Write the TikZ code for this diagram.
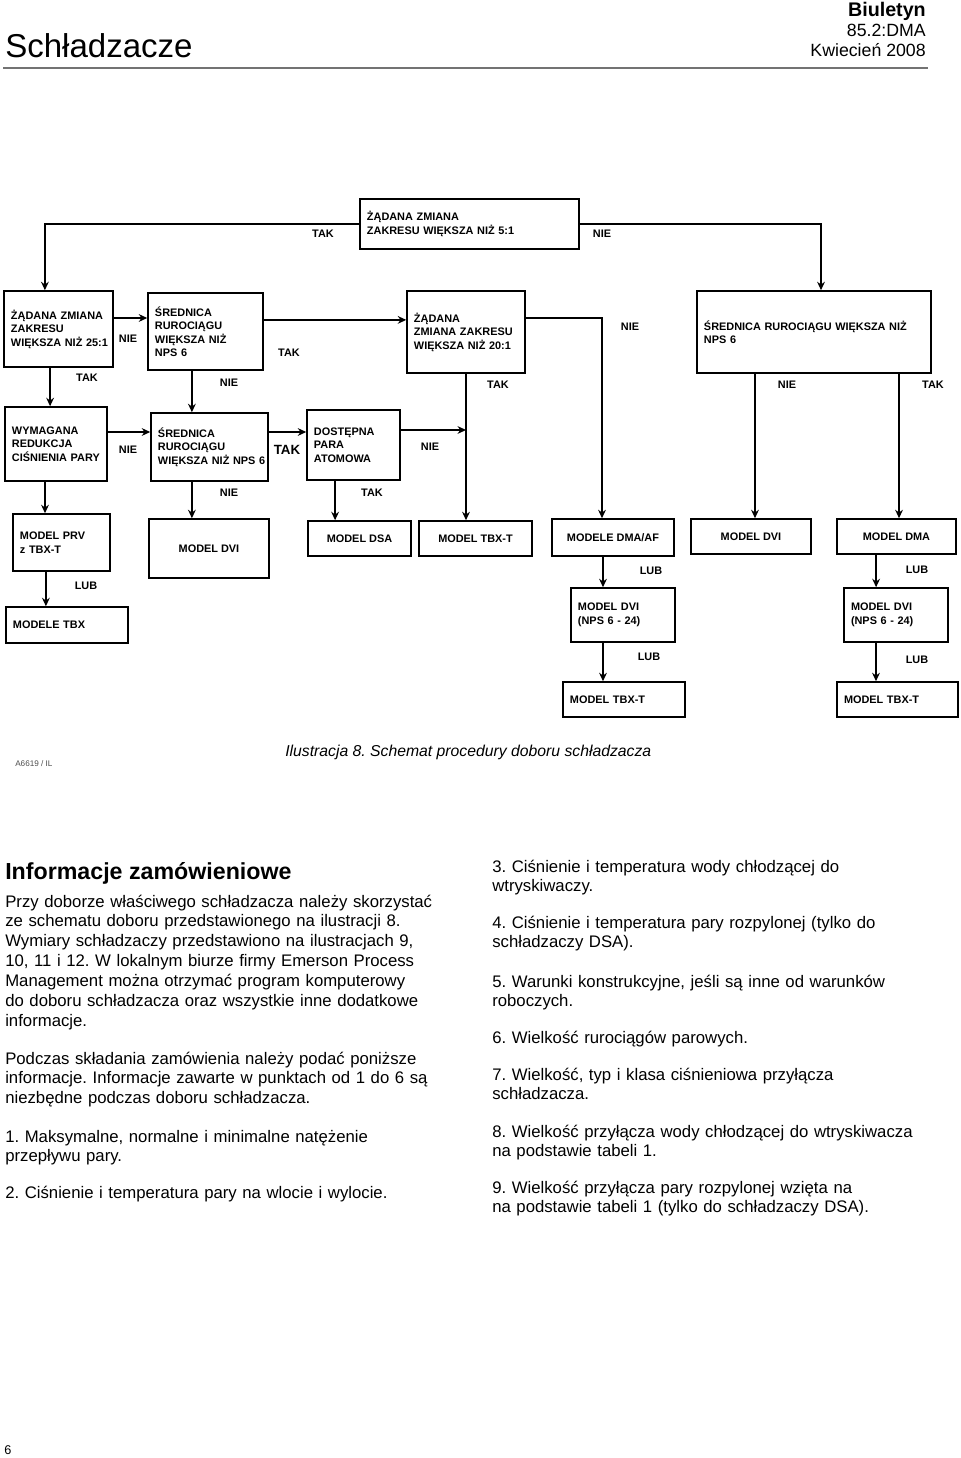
\documentclass[tikz,border=0pt]{standalone}
\usepackage{fontspec}
\setmainfont{Liberation Sans}
\usetikzlibrary{arrows.meta}
\frenchspacing

\newcommand{\boxfont}{\fontsize{7.75}{9.6}\selectfont\bfseries}
\newcommand{\bodyfont}{\fontsize{11.9}{14.2}\selectfont}

\begin{document}
\begin{tikzpicture}[x=0.025cm, y=-0.025cm,
  lbox/.style 2 args={draw, line width=1.1pt, font=\boxfont, inner sep=0pt,
    text width=#1*0.25mm, minimum height=#2*0.25mm,
    execute at begin node={\leftskip=1.75mm}},
  cbox/.style 2 args={draw, line width=1.1pt, font=\boxfont, inner sep=0pt, align=center,
    minimum width=#1*0.25mm, minimum height=#2*0.25mm},
  lbl/.style={font=\boxfont, inner sep=0pt},
  arr/.style={line width=1.1pt, -{Stealth[length=6pt,width=5.5pt]}},
  txt/.style={font=\bodyfont, inner sep=0pt, anchor=base west, text width=115mm, align=left}]
\useasboundingbox (0,0) rectangle (960,1458);

\node[anchor=base west, inner sep=0pt, font=\fontsize{23.5}{28}\selectfont] (title) at (5,58) {Schładzacze};
\node[anchor=base east, inner sep=0pt, font=\fontsize{14}{17}\selectfont\bfseries] (bul) at (926,17) {Biuletyn};
\node[anchor=base east, inner sep=0pt, font=\fontsize{12.6}{15}\selectfont] (nr) at (926,37) {85.2:DMA};
\node[anchor=base east, inner sep=0pt, font=\fontsize{12.6}{15}\selectfont] (date) at (926,57) {Kwiecień 2008};
\draw[line width=1.4pt, black!55] (3,68) -- (928,68);

\node[lbox={219}{50}] (top) at (469.5,224) {ŻĄDANA ZMIANA\\ZAKRESU WIĘKSZA NIŻ 5:1};

\node[lbox={109}{76}] (b1) at (58.5,329) {ŻĄDANA ZMIANA\\ZAKRESU\\WIĘKSZA NIŻ 25:1};
\node[lbox={115}{77}] (b2) at (205.5,331.5) {ŚREDNICA\\RUROCIĄGU\\WIĘKSZA NIŻ\\NPS 6};
\node[lbox={118}{82}] (b3) at (466,332) {ŻĄDANA\\ZMIANA ZAKRESU\\WIĘKSZA NIŻ 20:1};
\node[lbox={234}{82}] (b4) at (814,332) {ŚREDNICA RUROCIĄGU WIĘKSZA NIŻ\\NPS 6};

\node[lbox={102}{74}] (c1) at (56,444) {WYMAGANA\\REDUKCJA\\CIŚNIENIA PARY};
\node[lbox={117}{68}] (c2) at (209.5,447) {ŚREDNICA\\RUROCIĄGU\\WIĘKSZA NIŻ NPS 6};
\node[lbox={93}{70}] (c3) at (353.5,445) {DOSTĘPNA\\PARA\\ATOMOWA};

\node[lbox={97}{57}] (d1) at (61.5,542.5) {MODEL PRV\\z TBX-T};
\node[cbox={120}{59}] (d2) at (209,548.5) {MODEL DVI};
\node[cbox={103}{35}] (d3) at (359.5,538.5) {MODEL DSA};
\node[cbox={113}{35}] (d4) at (475.5,538.5) {MODEL TBX-T};
\node[cbox={122}{37}] (d5) at (613,537.5) {MODELE DMA/AF};
\node[cbox={120}{35}] (d6) at (751,536.5) {MODEL DVI};
\node[cbox={119}{35}] (d7) at (896.5,536.5) {MODEL DMA};

\node[lbox={122}{36}] (e1) at (67,625) {MODELE TBX};
\node[lbox={104}{54}] (e2) at (623,615) {MODEL DVI\\(NPS 6 - 24)};
\node[lbox={104}{54}] (e3) at (896,615) {MODEL DVI\\(NPS 6 - 24)};
\node[lbox={122}{35}] (f1) at (624,699.5) {MODEL TBX-T};
\node[lbox={121}{35}] (f2) at (897.5,699.5) {MODEL TBX-T};

\draw[arr] (top.west) -| ([xshift=-3.4mm]b1.north);
\draw[arr] (top.east) -| ([xshift=1.75mm]b4.north);
\draw[arr] ([yshift=2.75mm]b1.east) -- ([yshift=2.75mm]b1.east -| b2.west);
\draw[arr] ([yshift=2.9mm]b2.east) -- ([yshift=2.9mm]b2.east -| b3.west);
\draw[arr] ([yshift=3.5mm]b3.east) -| ([xshift=-2.75mm]d5.north);
\draw[arr] (b3.south) -- (b3.south |- d4.north);
\draw[arr] ([xshift=-14.75mm]b4.south) -- ([xshift=-14.75mm]b4.south |- d6.north);
\draw[arr] ([xshift=21.25mm]b4.south) -- ([xshift=21.25mm]b4.south |- d7.north);
\draw[arr] ([xshift=-2.1mm]b1.south) -- ([xshift=-2.1mm]b1.south |- c1.north);
\draw[arr] ([xshift=-3.4mm]b2.south) -- ([xshift=-3.4mm]b2.south |- c2.north);

\draw[arr] ([yshift=3mm]c1.east) -- ([yshift=3mm]c1.east -| c2.west);
\draw[arr] ([yshift=3.75mm]c2.east) -- ([yshift=3.75mm]c2.east -| c3.west);
\draw[arr] ([yshift=3.75mm]c3.east) -- ([yshift=3.75mm]c3.east -| b3.south);
\draw[arr] ([xshift=-2.75mm]c1.south) -- ([xshift=-2.75mm]c1.south |- d1.north);
\draw[arr] ([xshift=-4.4mm]c2.south) -- ([xshift=-4.4mm]c2.south |- d2.north);
\draw[arr] ([xshift=-4.6mm]c3.south) -- ([xshift=-4.6mm]c3.south |- d3.north);

\draw[arr] ([xshift=-3.9mm]d1.south) -- ([xshift=-3.9mm]d1.south |- e1.north);
\draw[arr] ([xshift=-2.5mm]d5.south) -- ([xshift=-2.5mm]d5.south |- e2.north);
\draw[arr] ([xshift=-5.1mm]d7.south) -- ([xshift=-5.1mm]d7.south |- e3.north);
\draw[arr] ([xshift=-5mm]e2.south) -- ([xshift=-5mm]e2.south |- f1.north);
\draw[arr] ([xshift=-5mm]e3.south) -- ([xshift=-5mm]e3.south |- f2.north);

\node[lbl] (l1) at (323,234) {TAK};
\node[lbl] (l2) at (602,234) {NIE};
\node[lbl] (l3) at (128,339) {NIE};
\node[lbl] (l4) at (289,353) {TAK};
\node[lbl] (l5) at (630,327) {NIE};
\node[lbl] (l6) at (87,378) {TAK};
\node[lbl] (l7) at (229,383) {NIE};
\node[lbl] (l8) at (498,385) {TAK};
\node[lbl] (l9) at (787,385) {NIE};
\node[lbl] (l10) at (933,385) {TAK};
\node[lbl] (l11) at (128,450) {NIE};
\node[lbl, font=\fontsize{9.5}{11}\selectfont\bfseries] (l12) at (287,450) {TAK};
\node[lbl] (l13) at (430,447) {NIE};
\node[lbl] (l14) at (229,493) {NIE};
\node[lbl] (l15) at (372,493) {TAK};
\node[lbl] (l16) at (86,586) {LUB};
\node[lbl] (l17) at (651,571) {LUB};
\node[lbl] (l18) at (917,570) {LUB};
\node[lbl] (l19) at (649,657) {LUB};
\node[lbl] (l20) at (917,660) {LUB};

\node[anchor=base west, inner sep=0pt, font=\fontsize{5.8}{7}\selectfont, black!70] (kod) at (15,766) {A6619 / IL};
\node[anchor=base west, inner sep=0pt, font=\fontsize{11.2}{13}\selectfont\itshape] (cap) at (285,756) {Ilustracja 8. Schemat procedury doboru schładzacza};

\node[anchor=base west, inner sep=0pt, font=\fontsize{16.5}{20}\selectfont\bfseries] (head) at (5,879) {Informacje zamówieniowe};
\node[txt] (p1) at (5,907) {Przy doborze właściwego schładzacza należy skorzystać\\ze schematu doboru przedstawionego na ilustracji 8.\\Wymiary schładzaczy przedstawiono na ilustracjach 9,\\10, 11 i 12. W lokalnym biurze firmy Emerson Process\\Management można otrzymać program komputerowy\\do doboru schładzacza oraz wszystkie inne dodatkowe\\informacje.};
\node[txt] (p2) at (5,1064) {Podczas składania zamówienia należy podać poniższe\\informacje. Informacje zawarte w punktach od 1 do 6 są\\niezbędne podczas doboru schładzacza.};
\node[txt] (i1) at (5,1142) {1. Maksymalne, normalne i minimalne natężenie\\przepływu pary.};
\node[txt] (i2) at (5,1198) {2. Ciśnienie i temperatura pary na wlocie i wylocie.};

\node[txt] (i3) at (492,872) {3. Ciśnienie i temperatura wody chłodzącej do\\wtryskiwaczy.};
\node[txt] (i4) at (492,928) {4. Ciśnienie i temperatura pary rozpylonej (tylko do\\schładzaczy DSA).};
\node[txt] (i5) at (492,987) {5. Warunki konstrukcyjne, jeśli są inne od warunków\\roboczych.};
\node[txt] (i6) at (492,1043) {6. Wielkość rurociągów parowych.};
\node[txt] (i7) at (492,1080) {7. Wielkość, typ i klasa ciśnieniowa przyłącza\\schładzacza.};
\node[txt] (i8) at (492,1137) {8. Wielkość przyłącza wody chłodzącej do wtryskiwacza\\na podstawie tabeli 1.};
\node[txt] (i9) at (492,1193) {9. Wielkość przyłącza pary rozpylonej wzięta na\\na podstawie tabeli 1 (tylko do schładzaczy DSA).};

\node[anchor=base west, inner sep=0pt, font=\fontsize{9}{11}\selectfont] (page) at (4,1454) {6};

\end{tikzpicture}
\end{document}
